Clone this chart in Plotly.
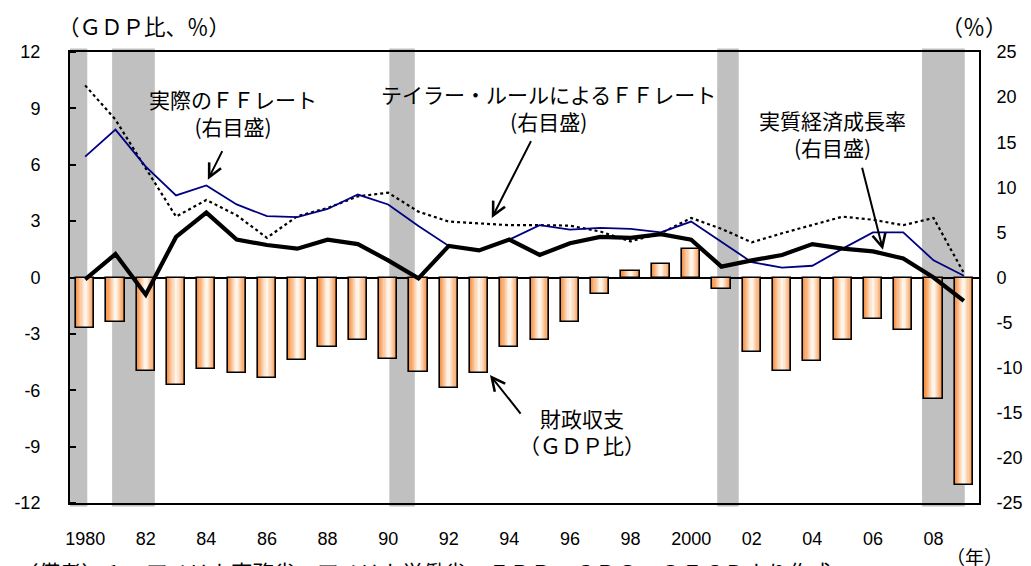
import plotly.graph_objects as go

# ---- data -------------------------------------------------------------
years = list(range(1980, 2010))

# federal budget balance (% of GDP, left axis)
fiscal_balance = [-2.7, -2.35, -4.95, -5.7, -4.85, -5.1, -5.35, -4.4, -3.7, -3.3,
                  -4.35, -5.05, -5.9, -5.1, -3.7, -3.3, -2.35, -0.9, 0.35, 0.7,
                  1.5, -0.6, -3.95, -4.95, -4.45, -3.3, -2.2, -2.8, -6.45, -11.05]

# effective federal funds rate (%, right axis)
ff_rate = [13.4, 16.4, 12.3, 9.1, 10.2, 8.1, 6.8, 6.7, 7.6, 9.2,
           8.1, 5.7, 3.5, 3.0, 4.2, 5.8, 5.3, 5.5, 5.4, 5.0,
           6.2, 3.9, 1.7, 1.1, 1.3, 3.2, 5.0, 5.0, 1.9, 0.2]

# federal funds rate implied by the Taylor rule (%, right axis)
taylor_rate = [21.3, 17.5, 12.1, 6.75, 8.6, 6.9, 4.4, 6.8, 7.7, 9.0,
               9.4, 7.3, 6.2, 6.0, 5.8, 5.8, 5.75, 5.1, 4.0, 4.9,
               6.6, 5.4, 3.9, 4.9, 5.8, 6.75, 6.4, 5.8, 6.6, 0.5]

# real GDP growth (%, right axis)
real_growth = [-0.2, 2.6, -1.9, 4.5, 7.2, 4.2, 3.6, 3.2, 4.2, 3.7,
               1.9, -0.1, 3.5, 3.0, 4.2, 2.5, 3.8, 4.5, 4.4, 4.8,
               4.2, 1.2, 1.9, 2.5, 3.7, 3.2, 2.9, 2.1, 0.0, -2.6]

# recession periods (shaded)
recessions = [(1979.5, 1980.07), (1980.89, 1982.30), (1990.04, 1990.88),
              (2000.86, 2001.57), (2007.62, 2009.03)]

tick_years = list(range(1980, 2010, 2))
tick_text = ["1980", "82", "84", "86", "88", "90", "92", "94", "96", "98",
             "2000", "02", "04", "06", "08"]

left_ticks = [12, 9, 6, 3, 0, -3, -6, -9, -12]
right_ticks = [25, 20, 15, 10, 5, 0, -5, -10, -15, -20, -25]

# ---- figure -----------------------------------------------------------
JP = "Noto Sans CJK JP"
NUM = "Liberation Sans, Arial"

fig = go.Figure()

# bars with a horizontal orange-to-cream gradient built from stacked widths
edge = (246, 150, 75)
centre = (255, 244, 232)
n_steps = 8
bar_w = 0.6
for i in range(n_steps):
    t = i / (n_steps - 1)
    col = tuple(round(edge[k] + (centre[k] - edge[k]) * t) for k in range(3))
    w = bar_w * (1 - 0.85 * t)
    fig.add_trace(go.Bar(
        x=years, y=fiscal_balance, width=w,
        marker=dict(color="rgb(%d,%d,%d)" % col, line=dict(width=0)),
        yaxis="y", hoverinfo="skip", showlegend=False,
    ))
# outline on top
fig.add_trace(go.Bar(
    x=years, y=fiscal_balance, width=bar_w,
    marker=dict(color="rgba(0,0,0,0)", line=dict(color="black", width=1.6)),
    yaxis="y", name="財政収支", showlegend=False,
))

fig.add_trace(go.Scatter(
    x=years, y=taylor_rate, yaxis="y2", mode="lines",
    line=dict(color="black", width=2.2, dash="dot"), showlegend=False,
))
fig.add_trace(go.Scatter(
    x=years, y=ff_rate, yaxis="y2", mode="lines",
    line=dict(color="#000080", width=1.8), showlegend=False,
))
fig.add_trace(go.Scatter(
    x=years, y=real_growth, yaxis="y2", mode="lines",
    line=dict(color="black", width=4.2), showlegend=False,
))

shapes = []
for x0, x1 in recessions:
    shapes.append(dict(type="rect", xref="x", yref="paper", x0=x0, x1=x1,
                       y0=-0.008, y1=1.008, fillcolor="#C0C0C0",
                       line=dict(width=0), layer="below"))

annotations = []

def label(text, x, y, yref="y2", size=21):
    annotations.append(dict(text=text, x=x, y=y, xref="x", yref=yref,
                            showarrow=False, align="center",
                            font=dict(family=JP, size=size, color="black")))

def arrow(x_tail, y_tail, x_head, y_head, yref="y2"):
    annotations.append(dict(text="", x=x_head, y=y_head, xref="x", yref=yref,
                            ax=x_tail, ay=y_tail, axref="x", ayref=yref,
                            showarrow=True, arrowhead=5, arrowsize=1.3,
                            arrowwidth=2, arrowcolor="black"))

label("実際のＦＦレート<br>(右目盛)", 1984.88, 18.3)
arrow(1984.55, 14.18, 1984.05, 10.84)

label("テイラー・ルールによるＦＦレート<br>(右目盛)", 1995.28, 18.85)
arrow(1994.74, 15.29, 1993.42, 6.59)

label("実質経済成長率<br>(右目盛)", 2004.68, 16.0)
arrow(2005.63, 12.32, 2006.33, 3.07)

label("財政収支<br>（ＧＤＰ比）", 1996.4, -8.2, yref="y")
arrow(1994.41, -7.32, 1993.36, -5.19, yref="y")

# axis captions and source note
annotations += [
    dict(text="（ＧＤＰ比、％）", xref="paper", yref="paper", x=0.0, y=1.0,
         xshift=-14, yshift=27, xanchor="left", yanchor="middle", showarrow=False,
         font=dict(family=JP, size=21.5, color="black")),
    dict(text="（％）", xref="paper", yref="paper", x=1.0, y=1.0,
         xshift=-40, yshift=27, xanchor="left", yanchor="middle", showarrow=False,
         font=dict(family=JP, size=22, color="black")),
    dict(text="（年）", xref="paper", yref="paper", x=1.0, y=0.0,
         xshift=-35, yshift=-53, xanchor="left", yanchor="middle", showarrow=False,
         font=dict(family=JP, size=19, color="black")),
    dict(text="（備考）１．アメリカ商務省、アメリカ労働省、ＦＲＢ、ＣＢＯ、ＯＥＣＤより作成",
         xref="paper", yref="paper", x=0.0, y=0.0, xshift=-55, yshift=-68,
         xanchor="left", yanchor="middle", showarrow=False,
         font=dict(family=JP, size=21.5, color="black")),
]

fig.update_layout(
    width=1031, height=566,
    margin=dict(l=70, r=52, t=52, b=63, autoexpand=False),
    paper_bgcolor="white", plot_bgcolor="white",
    barmode="overlay", bargap=0,
    showlegend=False,
    shapes=shapes, annotations=annotations,
    xaxis=dict(range=[1979.5, 2009.5], tickvals=tick_years, ticktext=tick_text,
               automargin=False,
               showgrid=False, zeroline=False, showline=True, linecolor="black",
               linewidth=2, mirror=True, ticks="", ticklabelstandoff=18,
               tickfont=dict(family=NUM, size=18, color="black")),
    # left axis: short visible ticks inside (minor); invisible outside ticks
    # set the label gap
    yaxis=dict(range=[-12, 12], tickvals=left_ticks,
               ticktext=[str(v) for v in left_ticks],
               showgrid=False, automargin=False,
               zeroline=True, zerolinecolor="black", zerolinewidth=2,
               showline=True, linecolor="black", linewidth=2,
               ticks="outside", ticklen=24, tickcolor="rgba(0,0,0,0)",
               minor=dict(tickvals=left_ticks, ticks="inside", ticklen=6,
                          tickwidth=1.5, tickcolor="black", showgrid=False),
               tickfont=dict(family=NUM, size=18, color="black")),
    yaxis2=dict(range=[-25, 25], tickvals=right_ticks,
                ticktext=[str(v) for v in right_ticks],
                overlaying="y", side="right", automargin=False,
                showgrid=False, zeroline=False, showline=True, linecolor="black",
                linewidth=2, ticks="outside", ticklen=12, tickcolor="rgba(0,0,0,0)",
                tickfont=dict(family=NUM, size=18, color="black")),
)

fig.write_html("out.html")
